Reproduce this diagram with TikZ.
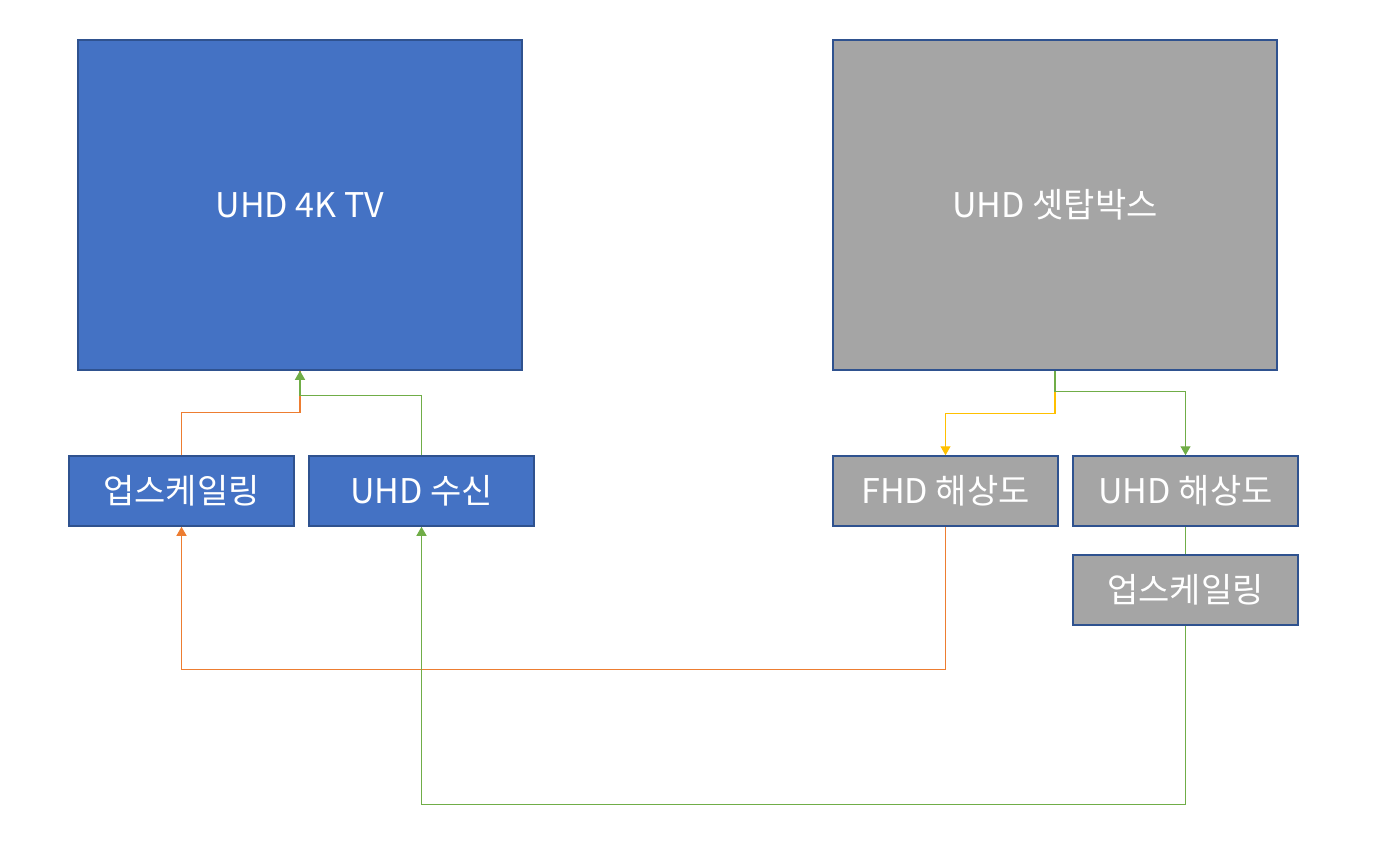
\documentclass[tikz,border=0pt]{standalone}
\usepackage{fontspec}
\setmainfont{Noto Sans CJK KR}
\usetikzlibrary{arrows.meta}
\usetikzlibrary{positioning}
\definecolor{tvblue}{HTML}{4472C4}
\definecolor{edgeblue}{HTML}{2F528F}
\definecolor{boxgray}{HTML}{A5A5A5}
\definecolor{lgreen}{HTML}{70AD47}
\definecolor{lorange}{HTML}{ED7D31}
\definecolor{lyellow}{HTML}{FFC000}
\tikzset{font={\fontsize{34pt}{40pt}\selectfont}}
\tikzset{
  bigbox/.style={draw=edgeblue, line width=1.5pt, text=white, minimum width=444pt, minimum height=330pt, inner sep=0pt},
  smallbox/.style={draw=edgeblue, line width=1.5pt, text=white, minimum width=225pt, minimum height=70pt, inner sep=0pt},
  wire/.style={line width=1.2pt},
  tip/.style={-{Triangle[width=10pt,length=9pt]}}
}

\begin{document}
\begin{tikzpicture}[x=1pt,y=-1pt]
  \useasboundingbox (0,0) rectangle (1380,852);
  % Define nodes
  \node[bigbox, fill=tvblue]   (tv)  at (300,205)  {UHD 4K TV};
  \node[bigbox, fill=boxgray]  (stb) at (1055,205) {UHD 셋탑박스};
  \node[smallbox, fill=tvblue] (upl) at (181.5,491) {업스케일링};
  \node[smallbox, fill=tvblue, right=13.5pt of upl] (uhdrx) {UHD 수신};
  \node[smallbox, fill=boxgray] (fhd) at (945.5,491) {FHD 해상도};
  \node[smallbox, fill=boxgray, right=13.5pt of fhd] (uhdres) {UHD 해상도};
  \node[smallbox, fill=boxgray, below=27.5pt of uhdres] (upr) {업스케일링};

  % Connect the nodes
  \draw[wire, lorange] (upl.north) -- ++(0,-43) -| (tv.south);
  \draw[wire, lgreen, tip] (uhdrx.north) -- ++(0,-60) -| (tv.south);
  \draw[wire, lyellow, tip] (stb.south) -- ++(0,43) -| (fhd.north);
  \draw[wire, lgreen, tip] (stb.south) -- ++(0,21) -| (uhdres.north);
  \draw[wire, lorange, tip] (fhd.south) -- ++(0,143) -| (upl.south);
  \draw[wire, lgreen] (uhdres.south) -- (upr.north);
  \draw[wire, lgreen, tip] (upr.south) -- ++(0,179) -| (uhdrx.south);
\end{tikzpicture}
\end{document}
